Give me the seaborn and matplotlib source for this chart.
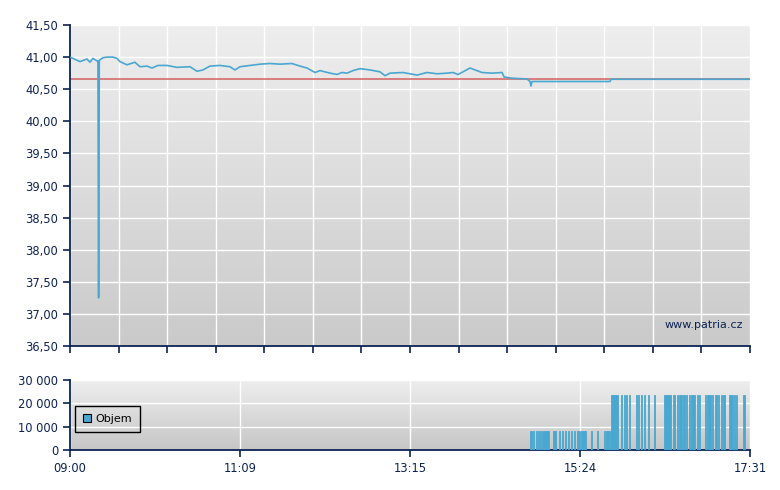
import matplotlib
matplotlib.use("Agg")
import matplotlib.pyplot as plt
import numpy as np
import pandas as pd
import seaborn as sns
from matplotlib.colors import LinearSegmentedColormap

# minutes after 09:00 and last price
price_minutes = [0, 7.5, 12.8, 15, 17.3, 20.3, 21, 21.5, 22, 24.8, 27.8, 32.3, 35.3,
                 37.6, 42.8, 48.8, 52.6, 57.9, 61.6, 66.1, 72.9, 80.4, 90.2, 95.4,
                 99.9, 105.2, 112.7, 120.2, 124, 127.8, 135.3, 142.8, 150.3, 157.8,
                 166.8, 172.8, 178.1, 184.1, 187.9, 195.4, 200.6, 204.4, 208.2, 212.7,
                 217.9, 225.5, 233, 236.7, 240.5, 250.2, 260.8, 268.3, 275.8, 283.3,
                 287.8, 291.6, 295.3, 300.6, 304.4, 309.6, 317.1, 324.7, 326.2, 332.9,
                 343.4, 345.7, 346.4, 347.2, 405.8, 406.6, 511]
price_values = [41.00, 40.93, 40.97, 40.92, 40.98, 40.94, 40.94, 37.25, 40.95, 40.99,
                41.00, 41.00, 40.98, 40.93, 40.88, 40.92, 40.85, 40.86, 40.83, 40.87,
                40.87, 40.84, 40.85, 40.78, 40.80, 40.86, 40.87, 40.85, 40.80, 40.85,
                40.87, 40.89, 40.90, 40.89, 40.90, 40.86, 40.83, 40.76, 40.79, 40.75,
                40.73, 40.76, 40.75, 40.79, 40.82, 40.80, 40.77, 40.71, 40.75, 40.76,
                40.72, 40.76, 40.74, 40.75, 40.76, 40.73, 40.77, 40.83, 40.80, 40.76,
                40.75, 40.76, 40.69, 40.67, 40.66, 40.62, 40.55, 40.62, 40.62, 40.655,
                40.655]
prev_close = 40.66

low_vol_minutes = [346, 348, 350, 351.5, 353, 355, 356.5, 358, 359, 363, 364, 367.5,
                   369.5, 372, 374, 376.5, 378.5, 381, 382, 384, 385, 386, 387, 391.5,
                   396, 401.5, 402.5, 403.5, 404.5, 405.5]
low_vol = 8000
high_vol_minutes = [406.6, 407.6, 408.6, 409.6, 410.6, 414, 416, 417.5, 420, 425, 427,
                    429, 431, 434, 439, 446, 447, 448, 449, 450, 451, 453, 454, 456, 458,
                    459, 461, 463, 465, 467, 468.5, 471, 472.5, 477, 478.5, 479.5, 480.5,
                    482.5, 484.5, 485.5, 487, 489, 491, 495, 496, 497, 499, 500.5, 506]
high_vol = 23500

session_ticks = [0, 127.75, 255.5, 383.25, 511]
session_labels = ["09:00", "11:09", "13:15", "15:24", "17:31"]
price_ticks = [36.5, 37.0, 37.5, 38.0, 38.5, 39.0, 39.5, 40.0, 40.5, 41.0, 41.5]
vol_ticks = [0, 10000, 20000, 30000]

navy = "#0c2352"
blue = "#4aa7d0"

sns.set_style("white")
plt.rcParams["font.family"] = ["DejaVu Sans"]

fig = plt.figure(figsize=(7.8, 4.9), dpi=100)
ax = fig.add_axes([70 / 780, 1 - 346 / 490, 680 / 780, 321 / 490])
axv = fig.add_axes([70 / 780, 1 - 450 / 490, 680 / 780, 70 / 490])


def gradient(a, top, bottom):
    cmap = LinearSegmentedColormap.from_list("bg", [bottom, top])
    a.imshow(np.linspace(0, 1, 256).reshape(-1, 1), cmap=cmap, origin="lower",
             extent=[0, 1, 0, 1], transform=a.transAxes, aspect="auto", zorder=-1)


def style(a):
    a.set_axisbelow(True)
    a.grid(True, color="white", linewidth=1.0)
    for side in ["top", "right"]:
        a.spines[side].set_visible(False)
    for side in ["left", "bottom"]:
        a.spines[side].set_color(navy)
        a.spines[side].set_linewidth(1.3)
    a.tick_params(colors=navy, labelcolor=navy, labelsize=8.3, length=5, width=1.2,
                  direction="out", left=True, bottom=True)


# price panel
gradient(ax, "#eeeeee", "#cacaca")
price = pd.DataFrame({"minute": price_minutes, "price": price_values})
ax.axhline(prev_close, color="#d46a6a", linewidth=1.4, alpha=0.85, zorder=2)
sns.lineplot(data=price, x="minute", y="price", ax=ax, color=blue, linewidth=1.2,
             zorder=3)
ax.set_xlim(0, 511)
ax.set_ylim(36.5, 41.5)
ax.set_xticks(np.linspace(0, 511, 15))
ax.set_xticklabels([])
ax.set_yticks(price_ticks)
ax.set_yticklabels([f"{v:.2f}".replace(".", ",") for v in price_ticks])
ax.set_xlabel("")
ax.set_ylabel("")
style(ax)
ax.text(0.99, 0.065, "www.patria.cz", transform=ax.transAxes, ha="right",
        va="center", color=navy, fontsize=8)

# volume panel
gradient(axv, "#eeeeee", "#c6c6c6")
axv.bar(low_vol_minutes, [low_vol] * len(low_vol_minutes), width=0.9, align="edge",
        color=blue, edgecolor=blue, linewidth=0.6, zorder=3, label="Objem")
axv.bar(high_vol_minutes, [high_vol] * len(high_vol_minutes), width=0.9,
        align="edge", color=blue, edgecolor=blue, linewidth=0.6, zorder=3)
axv.set_xlim(0, 511)
axv.set_ylim(0, 30000)
axv.set_xticks(session_ticks)
axv.set_xticklabels(session_labels)
axv.set_yticks(vol_ticks)
axv.set_yticklabels([f"{v:,}".replace(",", " ") for v in vol_ticks])
style(axv)
leg = axv.legend(loc="center left", bbox_to_anchor=(0.007, 0.443), fontsize=8,
                 frameon=True, fancybox=False, framealpha=1, facecolor="none",
                 edgecolor="black", handlelength=0.8, handleheight=0.8,
                 handletextpad=0.35, borderpad=0.7, borderaxespad=0,
                 labelcolor="black")
leg.get_frame().set_linewidth(1.0)
for h in leg.legend_handles:
    h.set_edgecolor("black")
    h.set_linewidth(0.8)

fig.savefig("out.png", dpi=100)
